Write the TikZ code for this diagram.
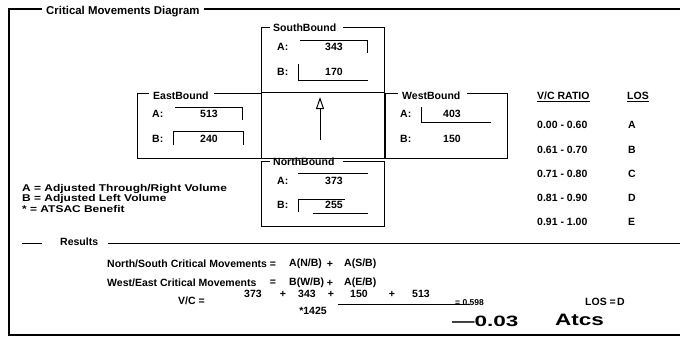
\documentclass[tikz,border=0pt]{standalone}
\usepackage{fontspec}
\setmainfont{Liberation Sans}
\usetikzlibrary{arrows.meta}
\tikzset{
  txt/.style={font=\fontsize{10.5}{12}\selectfont\bfseries, inner sep=0pt, text=black},
  legend/.style={font=\fontsize{9.8}{11}\selectfont\bfseries, inner sep=0pt, text=black},
  big/.style={font=\fontsize{11.4}{13}\selectfont\bfseries, inner ysep=1pt, inner xsep=4pt, fill=white},
  small/.style={font=\fontsize{8.5}{10}\selectfont\bfseries, inner sep=0pt},
  hand/.style={font=\fontsize{15}{16}\selectfont\bfseries, inner sep=0pt},
  frameline/.style={line width=2.2pt, black},
  boxline/.style={line width=1pt, black},
  field/.style={line width=0.9pt, black},
  rule/.style={line width=0.8pt, black}
}
\begin{document}
\begin{tikzpicture}[x=1pt,y=-1pt]
\useasboundingbox (0,0) rectangle (685,343);
\fill[white] (0,0) rectangle (685,343);
% outer frame
\coordinate (tl) at (9,9);
\coordinate (tr) at (680,9);
\coordinate (bl) at (9,335);
\coordinate (br) at (680,335);
\draw[frameline] (tr) -- (tl) -- (bl) -- (br);
\node[big, anchor=west] (title) at (42,12) {Critical Movements Diagram};
% SouthBound
\node[txt, anchor=west] (sbt) at (273,28) {SouthBound};
\draw[boxline] (270,27) -- (261,27) -- (261,92) -- (384,92) -- (384,27) -- (343,27);
\node[txt, anchor=west] (sbA) at (277,47) {A:};
\node[txt] (sbAv) at (334,47) {343};
\draw[field] (300,40) -- (367,40) -- (367,53);
\node[txt, anchor=west] (sbB) at (277,72) {B:};
\node[txt] (sbBv) at (334,72) {170};
\draw[field] (298,64) -- (298,80) -- (368,80);
% center square
\draw[boxline] (261,92) rectangle (384,158);
\coordinate (arrS) at (320,140);
\coordinate (arrE) at (320,97);
\draw[boxline, -{Triangle[open, length=12pt, width=8pt]}] (arrS) -- (arrE);
% EastBound
\node[txt, anchor=west] (ebt) at (153,96) {EastBound};
\draw[boxline] (149,93) -- (137,93) -- (137,158) -- (261,158);
\draw[boxline] (214,93) -- (261,93);
\node[txt, anchor=west] (ebA) at (152,114) {A:};
\node[txt] (ebAv) at (209,114) {513};
\draw[field] (175,107) -- (242,107) -- (242,120);
\node[txt, anchor=west] (ebB) at (152,139) {B:};
\node[txt] (ebBv) at (209,139) {240};
\draw[field] (173,145) -- (173,131) -- (243,131) -- (243,145);
% WestBound
\node[txt, anchor=west] (wbt) at (402,96) {WestBound};
\draw[boxline] (398,93) -- (385,93) -- (385,158) -- (507,158) -- (507,93) -- (467,93);
\node[txt, anchor=west] (wbA) at (400,114) {A:};
\node[txt] (wbAv) at (452,114) {403};
\draw[field] (421,107) -- (421,122) -- (491,122);
\node[txt, anchor=west] (wbB) at (400,139) {B:};
\node[txt] (wbBv) at (452,139) {150};
% NorthBound
\node[txt, anchor=west] (nbt) at (273,162) {NorthBound};
\draw[boxline] (270,161) -- (261,161) -- (261,226) -- (384,226) -- (384,161) -- (343,161);
\node[txt, anchor=west] (nbA) at (277,181) {A:};
\node[txt] (nbAv) at (334,181) {373};
\draw[field] (298,173) -- (368,173);
\node[txt, anchor=west] (nbB) at (277,205) {B:};
\node[txt] (nbBv) at (334,205) {255};
\draw[field] (298,212) -- (298,199) -- (345,199);
\draw[field] (313,213) -- (368,213);
% V/C ratio table
\node[txt, anchor=west] (vch) at (537,97) {\underline{V/C RATIO}};
\node[txt, anchor=west] (losh) at (627,97) {\underline{LOS}};
\node[txt, anchor=west] (r1) at (537,125) {0.00 - 0.60};
\node[txt, anchor=west] (l1) at (628,125) {A};
\node[txt, anchor=west] (r2) at (537,150) {0.61 - 0.70};
\node[txt, anchor=west] (l2) at (628,150) {B};
\node[txt, anchor=west] (r3) at (537,174) {0.71 - 0.80};
\node[txt, anchor=west] (l3) at (628,174) {C};
\node[txt, anchor=west] (r4) at (537,198) {0.81 - 0.90};
\node[txt, anchor=west] (l4) at (628,198) {D};
\node[txt, anchor=west] (r5) at (537,222) {0.91 - 1.00};
\node[txt, anchor=west] (l5) at (628,222) {E};
% legend
\node[legend, anchor=west] (lg1) at (22,189) {\scalebox{1.22}[1]{A = Adjusted Through/Right Volume}};
\node[legend, anchor=west] (lg2) at (22,199) {\scalebox{1.22}[1]{B = Adjusted Left Volume}};
\node[legend, anchor=west] (lg3) at (22,209) {\scalebox{1.22}[1]{* = ATSAC Benefit}};
% results
\node[txt, anchor=west] (res) at (60,242) {Results};
\draw[rule] (22,243) -- (42,243);
\draw[rule] (108,243) -- (680,243);
\node[txt, anchor=west] (ns) at (107,264) {North/South Critical Movements =};
\node[txt, anchor=west] (ns1) at (289,264) {A(N/B)};
\node[txt] (nsp) at (330,264) {+};
\node[txt, anchor=west] (ns2) at (344,264) {A(S/B)};
\node[txt, anchor=west] (we) at (107,283) {West/East Critical Movements};
\node[txt] (weq) at (273,283) {=};
\node[txt, anchor=west] (we1) at (289,283) {B(W/B)};
\node[txt] (wep) at (330,283) {+};
\node[txt, anchor=west] (we2) at (344,283) {A(E/B)};
% V/C computation
\node[txt, anchor=west] (vc) at (178,301) {V/C =};
\node[txt] (n1) at (253,294) {373};
\node[txt] (p1) at (283,294) {+};
\node[txt] (n2) at (307,294) {343};
\node[txt] (p2) at (331,294) {+};
\node[txt] (n3) at (359,294) {150};
\node[txt] (p3) at (392,294) {+};
\node[txt] (n4) at (421,294) {513};
\draw[rule] (338,304) -- (470,304);
\node[txt] (den) at (313,311) {*1425};
\node[small, anchor=west] (res1) at (455,303) {= 0.598};
\node[txt, anchor=west] (los) at (585,302) {LOS =};
\node[txt] (losv) at (621,302) {D};
\node[hand, anchor=west] (h1) at (452,321) {\scalebox{1.5}[1]{\textemdash0.03}};
\node[hand, anchor=west] (h2) at (555,320) {\scalebox{1.5}[1.1]{Atcs}};
\end{tikzpicture}
\end{document}
